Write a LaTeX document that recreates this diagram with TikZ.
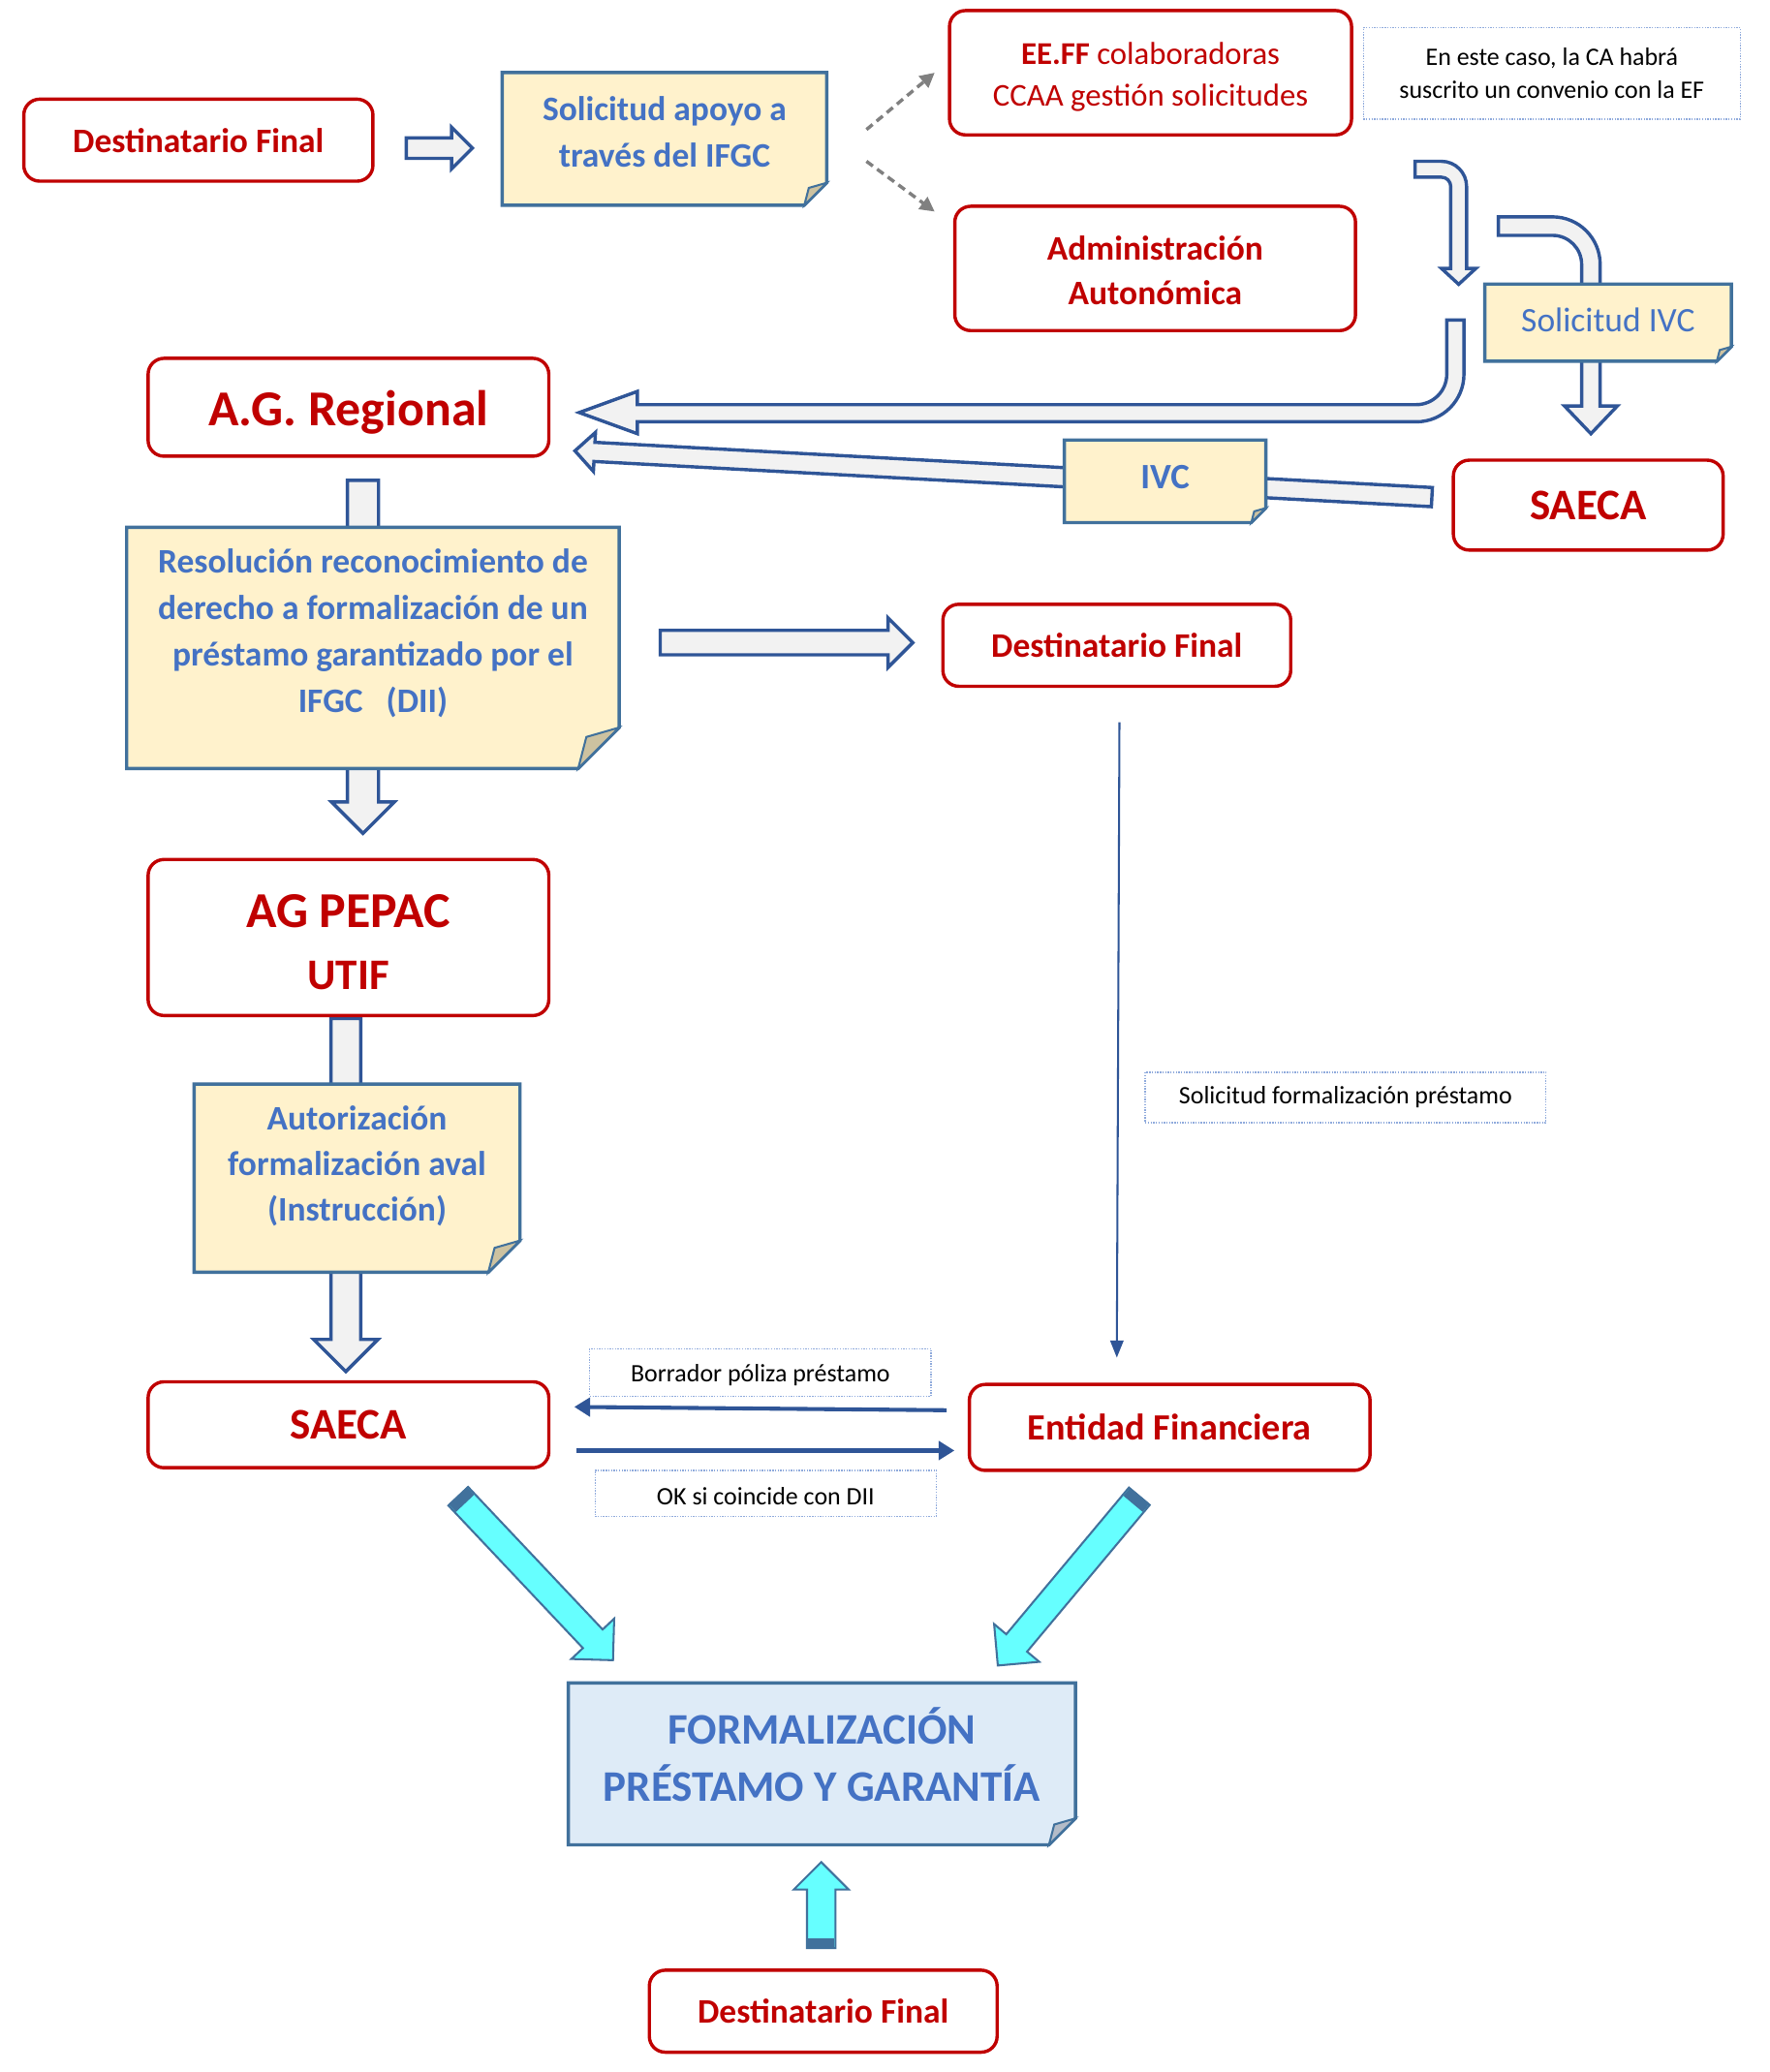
\documentclass[tikz,border=0pt]{standalone}
\usepackage{fontspec}
\setmainfont{Carlito}
\usetikzlibrary{shapes.arrows,arrows.meta,calc,positioning}
\definecolor{rojo}{HTML}{C00000}
\definecolor{azultexto}{HTML}{4472C4}
\definecolor{azulborde}{HTML}{41719C}
\definecolor{azulflecha}{HTML}{2F5597}
\definecolor{grisflecha}{HTML}{F2F2F2}
\definecolor{amarillo}{HTML}{FFF2CC}
\definecolor{doblez}{HTML}{CDC2A0}
\definecolor{celeste}{HTML}{DEEBF7}
\definecolor{doblezazul}{HTML}{B4BCC8}
\definecolor{cian}{HTML}{66FFFF}
\definecolor{punteado}{HTML}{8FAADC}
\definecolor{grisdash}{HTML}{808080}
\pgfdeclarelayer{flechas}\pgfdeclarelayer{notas}\pgfsetlayers{flechas,notas,main}
\tikzset{
caja/.style={draw=rojo, line width=2.5pt, rounded corners=12pt, fill=white, text=rojo, font=\bfseries\fontsize{26}{34}\selectfont, align=center, inner sep=0pt},
nota/.style={inner sep=0pt},
notatexto/.style={text=azultexto, font=\bfseries\fontsize{26}{35}\selectfont, align=center, inner sep=0pt},
etiqueta/.style={draw=punteado, densely dotted, line width=1pt, fill=white, font=\fontsize{19}{25}\selectfont, align=center, inner sep=0pt},
flechagris/.style={single arrow, draw=azulflecha, fill=grisflecha, line width=2.5pt, single arrow tip angle=90},
flechacian/.style={single arrow, draw=azulborde, fill=cian, line width=1.5pt, single arrow tip angle=90},
curva/.style={draw=azulflecha, fill=grisflecha, line width=2.5pt},
fina/.style={draw=azulflecha, line width=1.5pt, -{Triangle[length=13pt,width=10pt]}},
media/.style={draw=azulflecha, line width=3pt, -{Triangle[length=12pt,width=14pt]}},
discont/.style={draw=grisdash, line width=2.5pt, dash pattern=on 6pt off 4pt, -{Triangle[length=11pt,width=11pt]}}
}
\newcommand\flecha[5][flechagris]{%
\path let \p1=($(#3)-(#2)$), \n1={veclen(\x1,\y1)} in (#2) -- node[#1, sloped, allow upside down, pos=0, anchor=tail, minimum height=\n1, minimum width=#5pt, inner xsep=0pt, inner ysep=#4pt/2, single arrow head extend={(#5pt-#4pt)/2}] {} (#3);}
\newcommand\tapa[3]{%
\path (#1) -- node[sloped, allow upside down, pos=0, anchor=west, fill=azulborde, minimum width=8pt, minimum height=#3pt, inner sep=0pt] {} (#2);}
\newcommand\doblar[4]{%
\filldraw[draw=azulborde, line width=2.5pt, fill=#3] (#1.north west) -- (#1.north east) -- ([yshift=#2]#1.south east) -- ([xshift=-#2]#1.south east) -- (#1.south west) -- cycle;
\filldraw[draw=azulborde, line width=1.5pt, fill=#4] ([yshift=#2]#1.south east) -- ([xshift=-#2]#1.south east) -- ([xshift=-0.8*#2, yshift=0.77*#2]#1.south east) -- cycle;}
\begin{document}
\begin{tikzpicture}[x=1pt, y=-1pt]
\useasboundingbox (0,0) rectangle (1338,1567);
\node[caja, minimum width=264pt, minimum height=62pt] (df1) at (150,106) {Destinatario Final};
\node[nota, minimum width=245pt, minimum height=100pt] (solapoyo) at (502.5,105) {};
\node[notatexto] (solapoyo-t) at ([yshift=5pt]solapoyo.center) {Solicitud apoyo a\\través del IFGC};
\node[caja, minimum width=304pt, minimum height=94pt, font=\fontsize{24}{32}\selectfont] (eeff) at (870,55) {\rule{0pt}{23pt}\textbf{EE.FF} colaboradoras\\CCAA gestión solicitudes};
\node[etiqueta, minimum width=285pt, minimum height=69pt] (convenio) at (1173.5,55.5) {En este caso, la CA habrá\\suscrito un convenio con la EF};
\node[caja, minimum width=303pt, minimum height=94pt] (admin) at (873.5,203) {\rule{0pt}{21pt}Administración\\Autonómica};
\node[nota, minimum width=186pt, minimum height=58pt] (solivc) at (1216,244) {};
\node[notatexto, font=\fontsize{26}{34}\selectfont] (solivc-t) at ([yshift=2pt]solivc.center) {Solicitud IVC};
\node[caja, minimum width=303pt, minimum height=74pt, font=\bfseries\fontsize{38}{46}\selectfont, text height=34pt] (agreg) at (263.5,308) {A.G. Regional};
\node[nota, minimum width=152pt, minimum height=62pt] (ivc) at (881,364) {};
\node[notatexto, font=\bfseries\fontsize{27}{34}\selectfont] (ivc-t) at ([yshift=3pt]ivc.center) {IVC};
\node[caja, minimum width=204pt, minimum height=68pt, font=\bfseries\fontsize{33}{40}\selectfont] (saeca1) at (1201,382) {SAECA};
\node[nota, minimum width=372pt, minimum height=182pt] (resol) at (282,490) {};
\node[notatexto] (resol-t) at ([yshift=11pt]resol.center) {Resolución reconocimiento de\\derecho a formalización de un\\préstamo garantizado por el\\IFGC \ \ (DII)};
\node[caja, minimum width=263pt, minimum height=62pt] (df2) at (844.5,488) {Destinatario Final};
\node[caja, minimum width=303pt, minimum height=118pt, font=\bfseries\fontsize{33}{47}\selectfont] (agpepac) at (263.5,709) {{\fontsize{38}{47}\selectfont\rule{0pt}{32pt}AG PEPAC}\\UTIF};
\node[etiqueta, minimum width=303pt, minimum height=38pt] (solform) at (1017.5,830) {Solicitud formalización préstamo};
\node[nota, minimum width=246pt, minimum height=142pt] (autoriz) at (270,891) {};
\node[notatexto, font=\bfseries\fontsize{26}{34.5}\selectfont] (autoriz-t) at ([yshift=9pt]autoriz.center) {Autorización\\formalización aval\\(Instrucción)};
\node[caja, minimum width=303pt, minimum height=65pt, font=\bfseries\fontsize{33}{40}\selectfont] (saeca2) at (263.5,1077.5) {SAECA};
\node[caja, minimum width=303pt, minimum height=65pt, font=\bfseries\fontsize{28}{34}\selectfont] (entfin) at (884.5,1079.5) {Entidad Financiera};
\node[etiqueta, minimum width=258pt, minimum height=36pt, text height=17pt] (borrador) at (575,1038) {Borrador póliza préstamo};
\node[etiqueta, minimum width=258pt, minimum height=35pt, text height=17pt] (okdii) at (579,1129.5) {OK si coincide con DII};
\node[nota, minimum width=383pt, minimum height=122pt] (formal) at (621.5,1334) {};
\node[notatexto, font=\bfseries\fontsize{33}{43}\selectfont] (formal-t) at ([yshift=7pt]formal.center) {FORMALIZACIÓN\\PRÉSTAMO Y GARANTÍA};
\node[caja, minimum width=263pt, minimum height=62pt] (df3) at (622.5,1521) {Destinatario Final};
\draw[discont] ([xshift=30pt,yshift=7pt]solapoyo.east) -- ([xshift=-10pt]eeff.west);
\draw[discont] ([xshift=30pt,yshift=-17pt]solapoyo.east) -- ([xshift=-14pt,yshift=43pt]admin.west);
\draw[fina] ([xshift=2pt,yshift=-26pt]df2.south) -- ([xshift=-40pt,yshift=19pt]entfin.north);
\draw[media] ([xshift=-16pt,yshift=13pt]entfin.west) -- ([xshift=18pt,yshift=13.5pt]saeca2.east);
\draw[media] ([xshift=20pt,yshift=-19.5pt]saeca2.east) -- ([xshift=-10pt,yshift=-17.5pt]entfin.west);
\coordinate (a1s) at (306,112); \coordinate (a1e) at (356,112);
\coordinate (a2s) at (274.5,362); \coordinate (a2e) at (274.5,629);
\coordinate (a3s) at (498,486); \coordinate (a3e) at (689,486);
\coordinate (a4s) at (261.5,769); \coordinate (a4e) at (261.5,1036);
\coordinate (ivcs) at (1084,376); \coordinate (ivce) at (436,341);
\coordinate (cis) at (346,1131); \coordinate (cie) at (463,1255);
\coordinate (cds) at (862,1131); \coordinate (cde) at (755,1259);
\coordinate (cus) at (621,1474); \coordinate (cue) at (621,1409);
\begin{pgfonlayer}{notas}
\doblar{solapoyo}{17pt}{amarillo}{doblez}
\doblar{solivc}{11pt}{amarillo}{doblez}
\doblar{ivc}{11pt}{amarillo}{doblez}
\doblar{resol}{31pt}{amarillo}{doblez}
\doblar{autoriz}{24pt}{amarillo}{doblez}
\doblar{formal}{20pt}{celeste}{doblezazul}
\end{pgfonlayer}
\begin{pgfonlayer}{flechas}
\fill[white] (0,0) rectangle (1338,1567);
\foreach \a/\b/\s/\h in {a1s/a1e/13/29, a2s/a2e/21/45, a3s/a3e/16/35, a4s/a4e/20/46, ivcs/ivce/12/27}{
\flecha{\a}{\b}{\s}{\h}
}
\foreach \a/\b/\s/\h in {cis/cie/19/43, cds/cde/19/43, cus/cue/20/40}{
\flecha[flechacian]{\a}{\b}{\s}{\h}
\tapa{\a}{\b}{\s}
}
\draw[curva] (1070,122) -- (1090,122) arc[start angle=-90, end angle=0, radius=19] -- (1109,203) -- (1116,203) -- (1103,215) -- (1090,203) -- (1097,203) -- (1097,141) arc[start angle=0, end angle=-90, radius=7] -- (1070,134) -- cycle;
\draw[curva] (1133,164) -- (1174,164) arc[start angle=-90, end angle=0, radius=36] -- (1210,307) -- (1223,307) -- (1203,328) -- (1183,307) -- (1196,307) -- (1196,200) arc[start angle=0, end angle=-90, radius=22] -- (1133,178) -- cycle;
\draw[curva] (1094,242) -- (1107,242) -- (1107,283) arc[start angle=0, end angle=90, radius=36] -- (482,319) -- (482,328) -- (438,312) -- (482,296) -- (482,306) -- (1071,306) arc[start angle=90, end angle=0, radius=23] -- cycle;
\end{pgfonlayer}
\end{tikzpicture}
\end{document}
